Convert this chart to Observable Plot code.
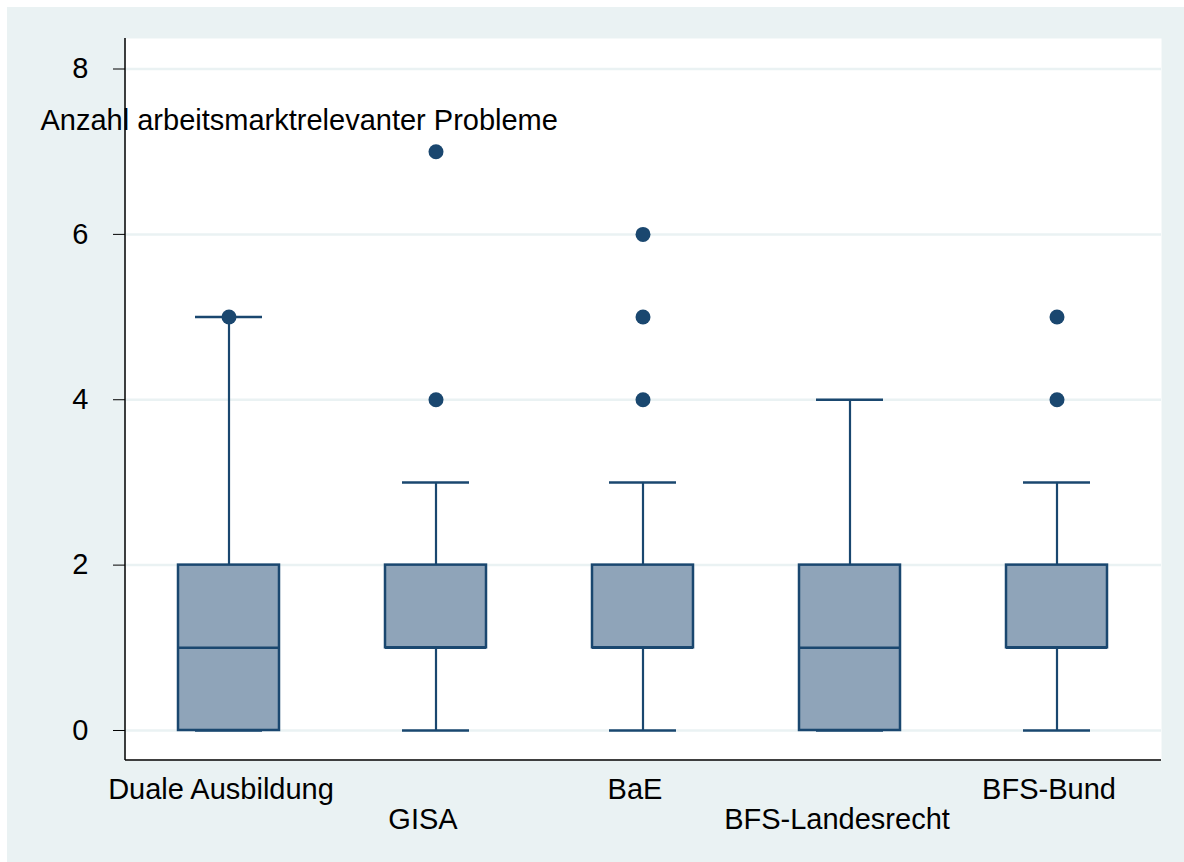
<!DOCTYPE html>
<html><head><meta charset="utf-8">
<script src="https://cdn.jsdelivr.net/npm/d3@7"></script>
<script src="https://cdn.jsdelivr.net/npm/@observablehq/plot@0.6"></script>
<style>
body{margin:0;background:#fff;}
#chart{position:absolute;left:7px;top:7px;}
</style>
</head><body><div id="chart"></div>
<script>
const categories = ["Duale Ausbildung", "GISA", "BaE", "BFS-Landesrecht", "BFS-Bund"];
const lowerWhisker = [0, 0, 0, 0, 0];
const q1 = [0, 1, 1, 0, 1];
const median = [1, 1, 1, 1, 1];
const q3 = [2, 2, 2, 2, 2];
const upperWhisker = [5, 3, 3, 4, 3];
const outlierCategories = ["Duale Ausbildung", "GISA", "GISA", "BaE", "BaE", "BaE", "BFS-Bund", "BFS-Bund"];
const outlierValues = [5, 4, 7, 4, 5, 6, 4, 5];
const yTicks = [0, 2, 4, 6, 8];
const xRow1 = ["Duale Ausbildung", "BaE", "BFS-Bund"];
const xRow2 = ["GISA", "BFS-Landesrecht"];
const yLabel = "Anzahl arbeitsmarktrelevanter Probleme";

const boxes = categories.map((c, i) => ({cat: c, lo: lowerWhisker[i], q1: q1[i], med: median[i], q3: q3[i], hi: upperWhisker[i]}));
const outliers = outlierCategories.map((c, i) => ({cat: c, v: outlierValues[i]}));

const navy = "#1A476F";
const boxFill = "#8FA4B9";
const bg = "#EAF2F3";
const fs = 29;

// left and bottom axis lines drawn along the plot frame
function axisLines(index, scales, values, dims) {
  const ns = "http://www.w3.org/2000/svg";
  const g = document.createElementNS(ns, "g");
  const x0 = dims.marginLeft, x1 = dims.width - dims.marginRight;
  const y0 = dims.marginTop, y1 = dims.height - dims.marginBottom;
  const mk = (a, b, c, d) => {
    const l = document.createElementNS(ns, "line");
    l.setAttribute("x1", a); l.setAttribute("y1", b);
    l.setAttribute("x2", c); l.setAttribute("y2", d);
    l.setAttribute("stroke", "black"); l.setAttribute("stroke-width", "1.5");
    g.appendChild(l);
  };
  mk(x0, y0, x0, y1);
  mk(x0, y1, x1, y1);
  return g;
}

const chart = Plot.plot({
  width: 1177,
  height: 855,
  marginLeft: 118,
  marginRight: 23,
  marginTop: 31,
  marginBottom: 102,
  style: {background: bg, fontFamily: "'Liberation Sans', Arial, sans-serif", fontSize: fs + "px", color: "black"},
  x: {type: "band", domain: categories, paddingInner: 0.51, paddingOuter: 0.25, axis: null},
  y: {domain: [-0.363, 8.369], axis: null},
  marks: [
    Plot.frame({fill: "white", stroke: null}),
    Plot.gridY(yTicks, {stroke: bg, strokeOpacity: 1, strokeWidth: 2.5}),
    Plot.ruleX(boxes, {x: "cat", y1: "q3", y2: "hi", stroke: navy, strokeWidth: 2.2}),
    Plot.ruleX(boxes, {x: "cat", y1: "lo", y2: "q1", stroke: navy, strokeWidth: 2.2}),
    Plot.tickY(boxes, {x: "cat", y: "hi", stroke: navy, strokeWidth: 2.5, insetLeft: 17, insetRight: 17}),
    Plot.tickY(boxes, {x: "cat", y: "lo", stroke: navy, strokeWidth: 2.5, insetLeft: 17, insetRight: 17}),
    Plot.barY(boxes, {x: "cat", y1: "q1", y2: "q3", fill: boxFill, stroke: navy, strokeWidth: 2.5}),
    Plot.tickY(boxes, {x: "cat", y: "med", stroke: navy, strokeWidth: 2.5}),
    Plot.dot(outliers, {x: "cat", y: "v", r: 7.5, fill: navy, stroke: null}),
    Plot.axisY(yTicks, {tickSize: 12, tickPadding: 25, tickFormat: d3.format("d"), fontSize: fs, label: null, stroke: "black"}),
    Plot.axisX(xRow1, {tickSize: 0, tickPadding: 18, dx: -8, fontSize: fs, label: null}),
    Plot.axisX(xRow2, {tickSize: 0, tickPadding: 48, dx: -13, fontSize: fs, label: null}),
    axisLines,
    Plot.text([yLabel], {frameAnchor: "top-left", textAnchor: "start", lineAnchor: "top", dx: -85, dy: 71, fontSize: fs, fill: "black"})
  ]
});
document.getElementById("chart").appendChild(chart);
</script>
</body></html>
